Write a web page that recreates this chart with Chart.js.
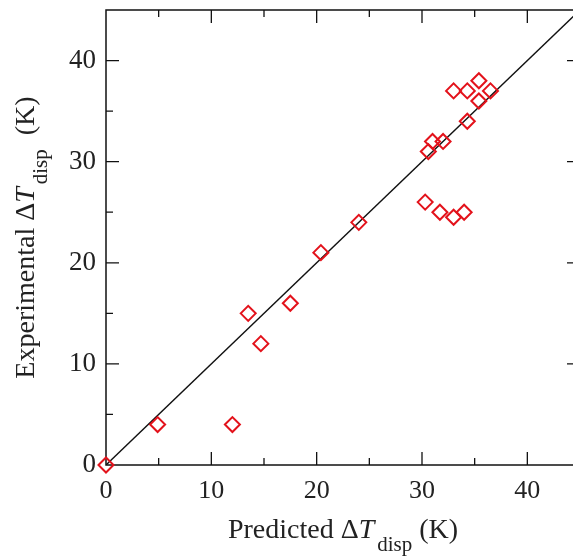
<!DOCTYPE html>
<html>
<head>
<meta charset="utf-8">
<script src="https://cdn.jsdelivr.net/npm/chart.js@4/dist/chart.umd.min.js"></script>
<style>
  html, body { margin: 0; padding: 0; overflow: hidden; background: #fff; }
  #wrap { width: 573px; height: 558px; overflow: hidden; }
</style>
</head>
<body>
<div id="wrap"><canvas id="chart" width="600" height="558"></canvas></div>
<script>
'use strict';

// predicted vs experimental dispersion temperature (K)
let predicted = [0, 4.9, 12.0, 13.5, 14.7, 17.5, 20.4, 24.0, 30.3, 31.7, 33.0, 34.0,
  30.6, 31.0, 32.0, 34.3, 33.0, 34.3, 35.4, 35.4, 36.5];
let experimental = [0, 4.0, 4.0, 15.0, 12.0, 16.0, 21.0, 24.0, 26.0, 25.0, 24.5, 25.0,
  31.0, 32.0, 32.0, 34.0, 37.0, 37.0, 38.0, 36.0, 37.0];
let parityLine = [0, 45];
let axisRange = [0, 45];
let tickLabels = [0, 10, 20, 30, 40];

let points = [];
for (let i = 0; i < predicted.length; i++) {
  points.push({ x: predicted[i], y: experimental[i] });
}

let serif = "'Liberation Serif', 'Times New Roman', serif";

let labelTick = function (v) {
  return tickLabels.includes(v) ? String(v) : '';
};

// frame with inward ticks on all four sides
let framePlugin = {
  id: 'frame',
  beforeDatasetsDraw(chart) {
    let ctx = chart.ctx;
    let a = chart.chartArea;
    let xs = chart.scales.x;
    let ys = chart.scales.y;
    ctx.save();
    ctx.strokeStyle = '#111';
    ctx.lineWidth = 1.5;
    ctx.strokeRect(a.left, a.top, a.right - a.left, a.bottom - a.top);
    ctx.lineWidth = 1.3;
    ctx.beginPath();
    for (let v = 5; v < 45; v += 5) {
      let len = v % 10 === 0 ? 13 : 7;
      let px = xs.getPixelForValue(v);
      ctx.moveTo(px, a.bottom);
      ctx.lineTo(px, a.bottom - len);
      ctx.moveTo(px, a.top);
      ctx.lineTo(px, a.top + len);
      let py = ys.getPixelForValue(v);
      ctx.moveTo(a.left, py);
      ctx.lineTo(a.left + len, py);
      ctx.moveTo(a.right, py);
      ctx.lineTo(a.right - len, py);
    }
    ctx.stroke();
    ctx.restore();
  },
  afterDraw(chart) {
    let ctx = chart.ctx;
    let a = chart.chartArea;
    ctx.save();
    ctx.fillStyle = '#222';
    ctx.textBaseline = 'alphabetic';

    let drawTitle = function (pre, post) {
      let main = '28px ' + serif;
      let ital = 'italic 28px ' + serif;
      let sub = '21px ' + serif;
      ctx.font = main;
      let w1 = ctx.measureText(pre).width;
      ctx.font = ital;
      let w2 = ctx.measureText('T').width;
      ctx.font = sub;
      let w3 = ctx.measureText('disp').width;
      ctx.font = main;
      let w4 = ctx.measureText(post).width;
      let total = w1 + w2 + 3 + w3 + w4;
      let x = -total / 2;
      ctx.font = main;
      ctx.fillText(pre, x, 0);
      x += w1;
      ctx.font = ital;
      ctx.fillText('T', x, 0);
      x += w2 + 3;
      ctx.font = sub;
      ctx.fillText('disp', x, 13);
      x += w3;
      ctx.font = main;
      ctx.fillText(post, x, 0);
    };

    ctx.save();
    ctx.translate((a.left + a.right) / 2, 538);
    drawTitle('Predicted \u0394', ' (K)');
    ctx.restore();

    ctx.save();
    ctx.translate(34, (a.top + a.bottom) / 2);
    ctx.rotate(-Math.PI / 2);
    drawTitle('Experimental \u0394', '  (K)');
    ctx.restore();

    ctx.restore();
  }
};

let zeroPad = function (scale) {
  scale.paddingTop = 0;
  scale.paddingBottom = 0;
  scale.paddingLeft = 0;
  scale.paddingRight = 0;
};

let chartData = {
  type: 'scatter',
  data: {
    datasets: [{
      type: 'scatter',
      label: 'Data',
      data: points,
      pointStyle: 'rectRot',
      pointRadius: 7.5,
      pointHoverRadius: 7.5,
      borderColor: '#e3121b',
      backgroundColor: 'rgba(255,255,255,0)',
      borderWidth: 2,
      clip: false,
      order: 0
    }, {
      type: 'line',
      label: 'y = x',
      data: [{ x: parityLine[0], y: parityLine[0] }, { x: parityLine[1], y: parityLine[1] }],
      borderColor: '#111',
      borderWidth: 1.4,
      pointRadius: 0,
      fill: false,
      order: 1
    }]
  },
  options: {
    responsive: false,
    animation: false,
    events: [],
    layout: {
      autoPadding: false,
      padding: { left: 0, right: 20, top: 10, bottom: 0 }
    },
    plugins: {
      legend: { display: false },
      tooltip: { enabled: false }
    },
    scales: {
      x: {
        type: 'linear',
        min: axisRange[0],
        max: axisRange[1],
        grid: { display: false },
        border: { display: false },
        ticks: {
          stepSize: 5,
          autoSkip: false,
          maxRotation: 0,
          padding: 3,
          color: '#222',
          font: { family: serif, size: 26 },
          callback: labelTick
        },
        afterFit: function (scale) { scale.height = 93; zeroPad(scale); }
      },
      y: {
        type: 'linear',
        min: axisRange[0],
        max: axisRange[1],
        grid: { display: false },
        border: { display: false },
        ticks: {
          stepSize: 5,
          autoSkip: false,
          padding: 2,
          color: '#222',
          font: { family: serif, size: 27 },
          callback: labelTick
        },
        afterFit: function (scale) { scale.width = 106; zeroPad(scale); }
      }
    }
  },
  plugins: [framePlugin]
};

let ctx = document.getElementById('chart');
new Chart(ctx, chartData);
</script>
</body>
</html>
